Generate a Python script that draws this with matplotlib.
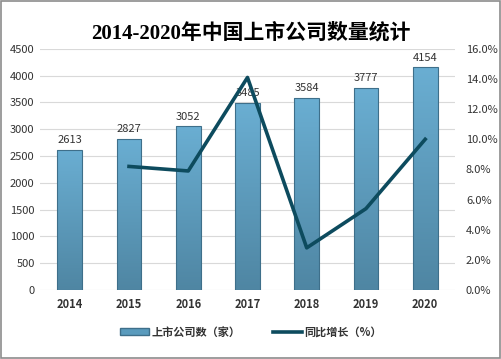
import numpy as np
import matplotlib.pyplot as plt
from matplotlib.colors import LinearSegmentedColormap
from matplotlib.patches import Rectangle
from matplotlib.lines import Line2D

plt.rcParams['font.family'] = ['Noto Sans CJK SC', 'DejaVu Sans']

years = ['2014', '2015', '2016', '2017', '2018', '2019', '2020']
companies = [2613, 2827, 3052, 3485, 3584, 3777, 4154]
growth_years = ['2015', '2016', '2017', '2018', '2019', '2020']
growth = [8.2, 7.9, 14.1, 2.8, 5.4, 10.0]

fig = plt.figure(figsize=(5.02, 3.59), dpi=100)
ax = fig.add_axes([0.080, 0.192, 0.826, 0.672])
ax2 = ax.twinx()

x = np.arange(len(years))
bar_w = 0.42
cmap = LinearSegmentedColormap.from_list('bar', ['#4f86a3', '#6aaed2'])
grad = np.linspace(0, 1, 100).reshape(-1, 1)
bars = ax.bar(x, companies, width=bar_w, color='none', edgecolor='#3e6f8a', linewidth=0.8, zorder=3)
for b in bars:
    x0, y0 = b.get_x(), b.get_y()
    im = ax.imshow(grad, cmap=cmap, aspect='auto', origin='lower',
                   extent=[x0, x0 + b.get_width(), y0, y0 + b.get_height()], zorder=2)
    im.set_clip_path(b)
for xi, v in zip(x, companies):
    ax.text(xi, v + 90, str(v), ha='center', va='bottom', fontsize=8, color='#333333', zorder=4)

ax.set_xlim(-0.5, len(years) - 0.5)
ax.set_ylim(0, 4500)
ax.set_yticks(np.arange(0, 4501, 500))
ax.set_xticks(x)
ax.set_xticklabels(years, fontweight='bold', fontsize=8, color='#222222')
ax.grid(axis='y', color='#d9d9d9', linewidth=0.8, zorder=0)
ax.set_axisbelow(True)

gx = [years.index(y) for y in growth_years]
ax2.plot(gx, growth, color='#0d4b5e', linewidth=2.6, zorder=5)
ax2.set_ylim(0, 16)
ax2.set_yticks(np.arange(0, 16.1, 2))
ax2.set_yticklabels(['%.1f%%' % t for t in np.arange(0, 16.1, 2)])

for a in (ax, ax2):
    for s in a.spines.values():
        s.set_visible(False)
    a.tick_params(length=0, labelsize=8, colors='#333333')
ax.tick_params(axis='x', pad=6)
ax.tick_params(axis='y', pad=4)
ax2.tick_params(axis='y', pad=8)

fig.suptitle('2014-2020年中国上市公司数量统计', y=0.935, fontsize=15,
             family=['Liberation Serif', 'Noto Sans CJK SC'], fontweight='bold')

handles = [Rectangle((0, 0), 1, 1, facecolor='#5a9bbd', edgecolor='#3e6f8a'),
           Line2D([0], [0], color='#0d4b5e', linewidth=2.6)]
leg = fig.legend(handles, ['上市公司数（家）', '同比增长（%）'], loc='center', bbox_to_anchor=(0.5, 0.075),
                 ncol=2, frameon=False, fontsize=8, handlelength=2.6, handleheight=0.6, columnspacing=3,
                 handletextpad=0.2)
for t in leg.get_texts():
    t.set_fontweight('bold')
    t.set_color('#333333')

fig.patches.append(Rectangle((0.002, 0.003), 0.995, 0.994, transform=fig.transFigure,
                             fill=False, edgecolor='#8c8c8c', linewidth=1.2))
fig.savefig('out.png', dpi=100)
